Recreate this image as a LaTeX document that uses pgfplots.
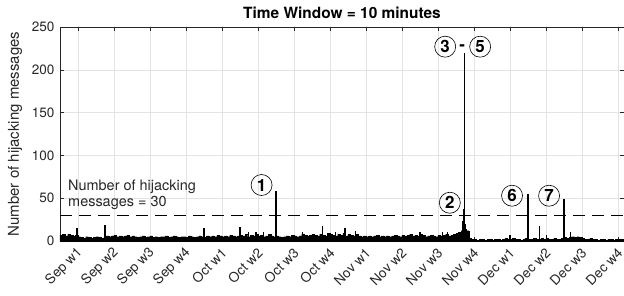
\documentclass[border=0pt]{standalone}
\usepackage{fontspec}
\setmainfont{TeX Gyre Heros}
\usepackage{pgfplots}
\pgfplotsset{compat=1.18}
\pgfplotsset{/pgf/number format/assume math mode=true}
\usetikzlibrary{calc}
\definecolor{axgray}{HTML}{262626}
\definecolor{gridgray}{HTML}{E3E3E3}
\begin{document}
\begin{tikzpicture}
\begin{axis}[
  scale only axis, width=564bp, height=214bp,
  xmin=0, xmax=109.67, ymin=0, ymax=250,
  xtick={3.5,10.5,17.5,24.5,31.5,38.5,45.5,52.5,59.5,66.5,73.5,80.5,87.5,94.5,101.5,108.5},
  xticklabels={Sep w1,Sep w2,Sep w3,Sep w4,Oct w1,Oct w2,Oct w3,Oct w4,Nov w1,Nov w2,Nov w3,Nov w4,Dec w1,Dec w2,Dec w3,Dec w4},
  ytick={0,50,100,150,200,250},
  tick align=inside, major tick length=4bp,
  xtick pos=both, ytick pos=both,
  tick style={axgray, line width=0.5bp},
  axis line style={axgray, line width=0.6bp},
  grid=major, major grid style={gridgray, line width=0.5bp},
  yticklabel style={font=\fontsize{13.6}{14}\selectfont, text=axgray, xshift=-2bp},
  xticklabel style={font=\fontsize{13.6}{14}\selectfont, text=axgray, inner sep=1bp, anchor=east, xshift=3bp, yshift=-9bp, rotate=45},
  title={\bfseries Time Window = 10 minutes},
  title style={font=\fontsize{15.5}{16}\selectfont, at={(0.5,1)}, anchor=south, inner sep=2bp},
  ylabel={Number of hijacking messages},
  ylabel style={font=\fontsize{15}{15}\selectfont, text=axgray, at={(axis description cs:-0.0798,0.5)}, anchor=center},
  clip=true,
]
% baseline activity
\addplot[fill=black, draw=black, line width=0.3bp, const plot] coordinates {
(0,7)(0.5,8)(1,6)(1.5,8)(2,7)(2.5,6)(3,7)(3.5,5)
(4,4)(4.5,3)(5,5)(5.5,4)(6,3)(6.5,4)(7,5)(7.5,4)(8,3)(8.5,4)
(9,6)(9.5,5)(10,6)(10.5,7)(11,5)(11.5,6)(12,5)(12.5,6)(13,7)(13.5,5)
(14,6)(14.5,5)(15,4)(15.5,5)(16,6)(16.5,4)(17,5)(17.5,6)(18,4)(18.5,5)
(19,4)(19.5,5)(20,5)(20.5,6)(21,4)(21.5,5)(22,6)(22.5,5)(23,4)(23.5,5)
(24,5)(24.5,4)(25,6)(25.5,5)(26,4)(26.5,5)(27,6)(27.5,5)(28,4)(28.5,6)
(29,5)(29.5,6)(30,5)(30.5,7)(31,6)(31.5,5)(32,6)(32.5,5)(33,7)(33.5,6)
(34,5)(34.5,6)(35,7)(35.5,6)(36,8)(36.5,5)(37,7)(37.5,6)(38,8)(38.5,6)
(39,7)(39.5,5)(40,6)(40.5,8)(41,6)(41.5,5)(42,6)(42.5,5)(43,4)(43.5,5)
(44,6)(44.5,5)(45,7)(45.5,6)(46,5)(46.5,6)(47,8)(47.5,7)(48,6)(48.5,7)
(49,8)(49.5,7)(50,6)(50.5,8)(51,7)(51.5,6)(52,9)(52.5,8)(53,7)(53.5,6)
(54,8)(54.5,7)(55,9)(55.5,6)(56,8)(56.5,7)(57,6)(57.5,8)(58,6)(58.5,5)
(59,6)(59.5,5)(60,6)(60.5,5)(61,6)(61.5,7)(62,5)(62.5,6)(63,5)(63.5,6)
(64,5)(64.5,6)(65,7)(65.5,6)(66,5)(66.5,7)(67,6)(67.5,7)(68,8)(68.5,6)
(69,7)(69.5,6)(70,8)(70.5,7)(71,5)(71.5,6)(72,7)(72.5,6)(73,5)(73.5,7)
(74,6)(74.5,7)(75,8)(75.5,6)(76,7)(76.5,8)(77,9)(77.5,10)(78,12)(78.5,14)
(79,12)(79.5,3)(80,2)(80.5,2)(81,1)(81.5,2)(82,2)(82.5,1)(83,2)(83.5,2)
(84,1)(84.5,2)(85,2)(85.5,1)(86,2)(86.5,3)(87,2)(87.5,2)(88,3)(88.5,2)
(89,2)(89.5,1)(90,2)(90.5,3)(91,2)(91.5,2)(92,3)(92.5,2)(93,2)(93.5,3)
(94,2)(94.5,3)(95,2)(95.5,2)(96,3)(96.5,2)(97,2)(97.5,3)(98,4)(98.5,3)
(99,4)(99.5,5)(100,4)(100.5,5)(101,4)(101.5,3)(102,2)(102.5,2)(103,3)(103.5,2)
(104,2)(104.5,1)(105,2)(105.5,2)(106,1)(106.5,2)(107,2)(107.5,1)(108,2)(108.5,2)
(109,2)(109.67,2)
} \closedcycle;
% individual spikes
\addplot[ycomb, black, line width=1.2bp] coordinates {
(3.3,15)(8.75,18.5)(28.0,15)(35.0,16)(36.6,11)(38.1,11)(39.5,11)(42,58.8)
(47.2,10)(51.1,17.6)(53.5,11)(55.4,15)(57.4,11.7)(70,11)(74.3,11)(75.4,11)
(78.2,23)(78.4,37.4)(78.6,219.6)(78.9,20)(87.5,7)(91,54.9)(93.3,17.6)(94.6,7)
(98,48.7)(99.2,10.5)
};
% threshold
\addplot[black, dash pattern=on 12bp off 7bp, line width=0.8bp] coordinates {(0,30)(109.67,30)};
% annotations
\node[anchor=west, align=left, inner sep=0pt, font=\fontsize{14.5}{16}\selectfont, text=axgray] at (axis cs:1.56,53.7) {Number of hijacking\\messages = 30};
\tikzset{circ/.style={circle, draw=black, line width=0.6bp, inner sep=0pt, minimum size=21bp, font=\bfseries\fontsize{17}{17}\selectfont}}
\node[circ] at (axis cs:39.2,65.4) {1};
\node[circ] at (axis cs:75.8,44.7) {2};
\node[circ] at (axis cs:74.9,227) {3};
\node[font=\bfseries\fontsize{17}{17}\selectfont] at (axis cs:78.2,226) {-};
\node[circ] at (axis cs:81.7,227) {5};
\node[circ] at (axis cs:87.9,52.9) {6};
\node[circ] at (axis cs:95.1,52.9) {7};
\end{axis}
\pgfresetboundingbox
\path[use as bounding box] ($(current axis.south west)+(-60bp,-55bp)$) rectangle ($(current axis.north east)+(0bp,27bp)$);
\end{tikzpicture}
\end{document}
